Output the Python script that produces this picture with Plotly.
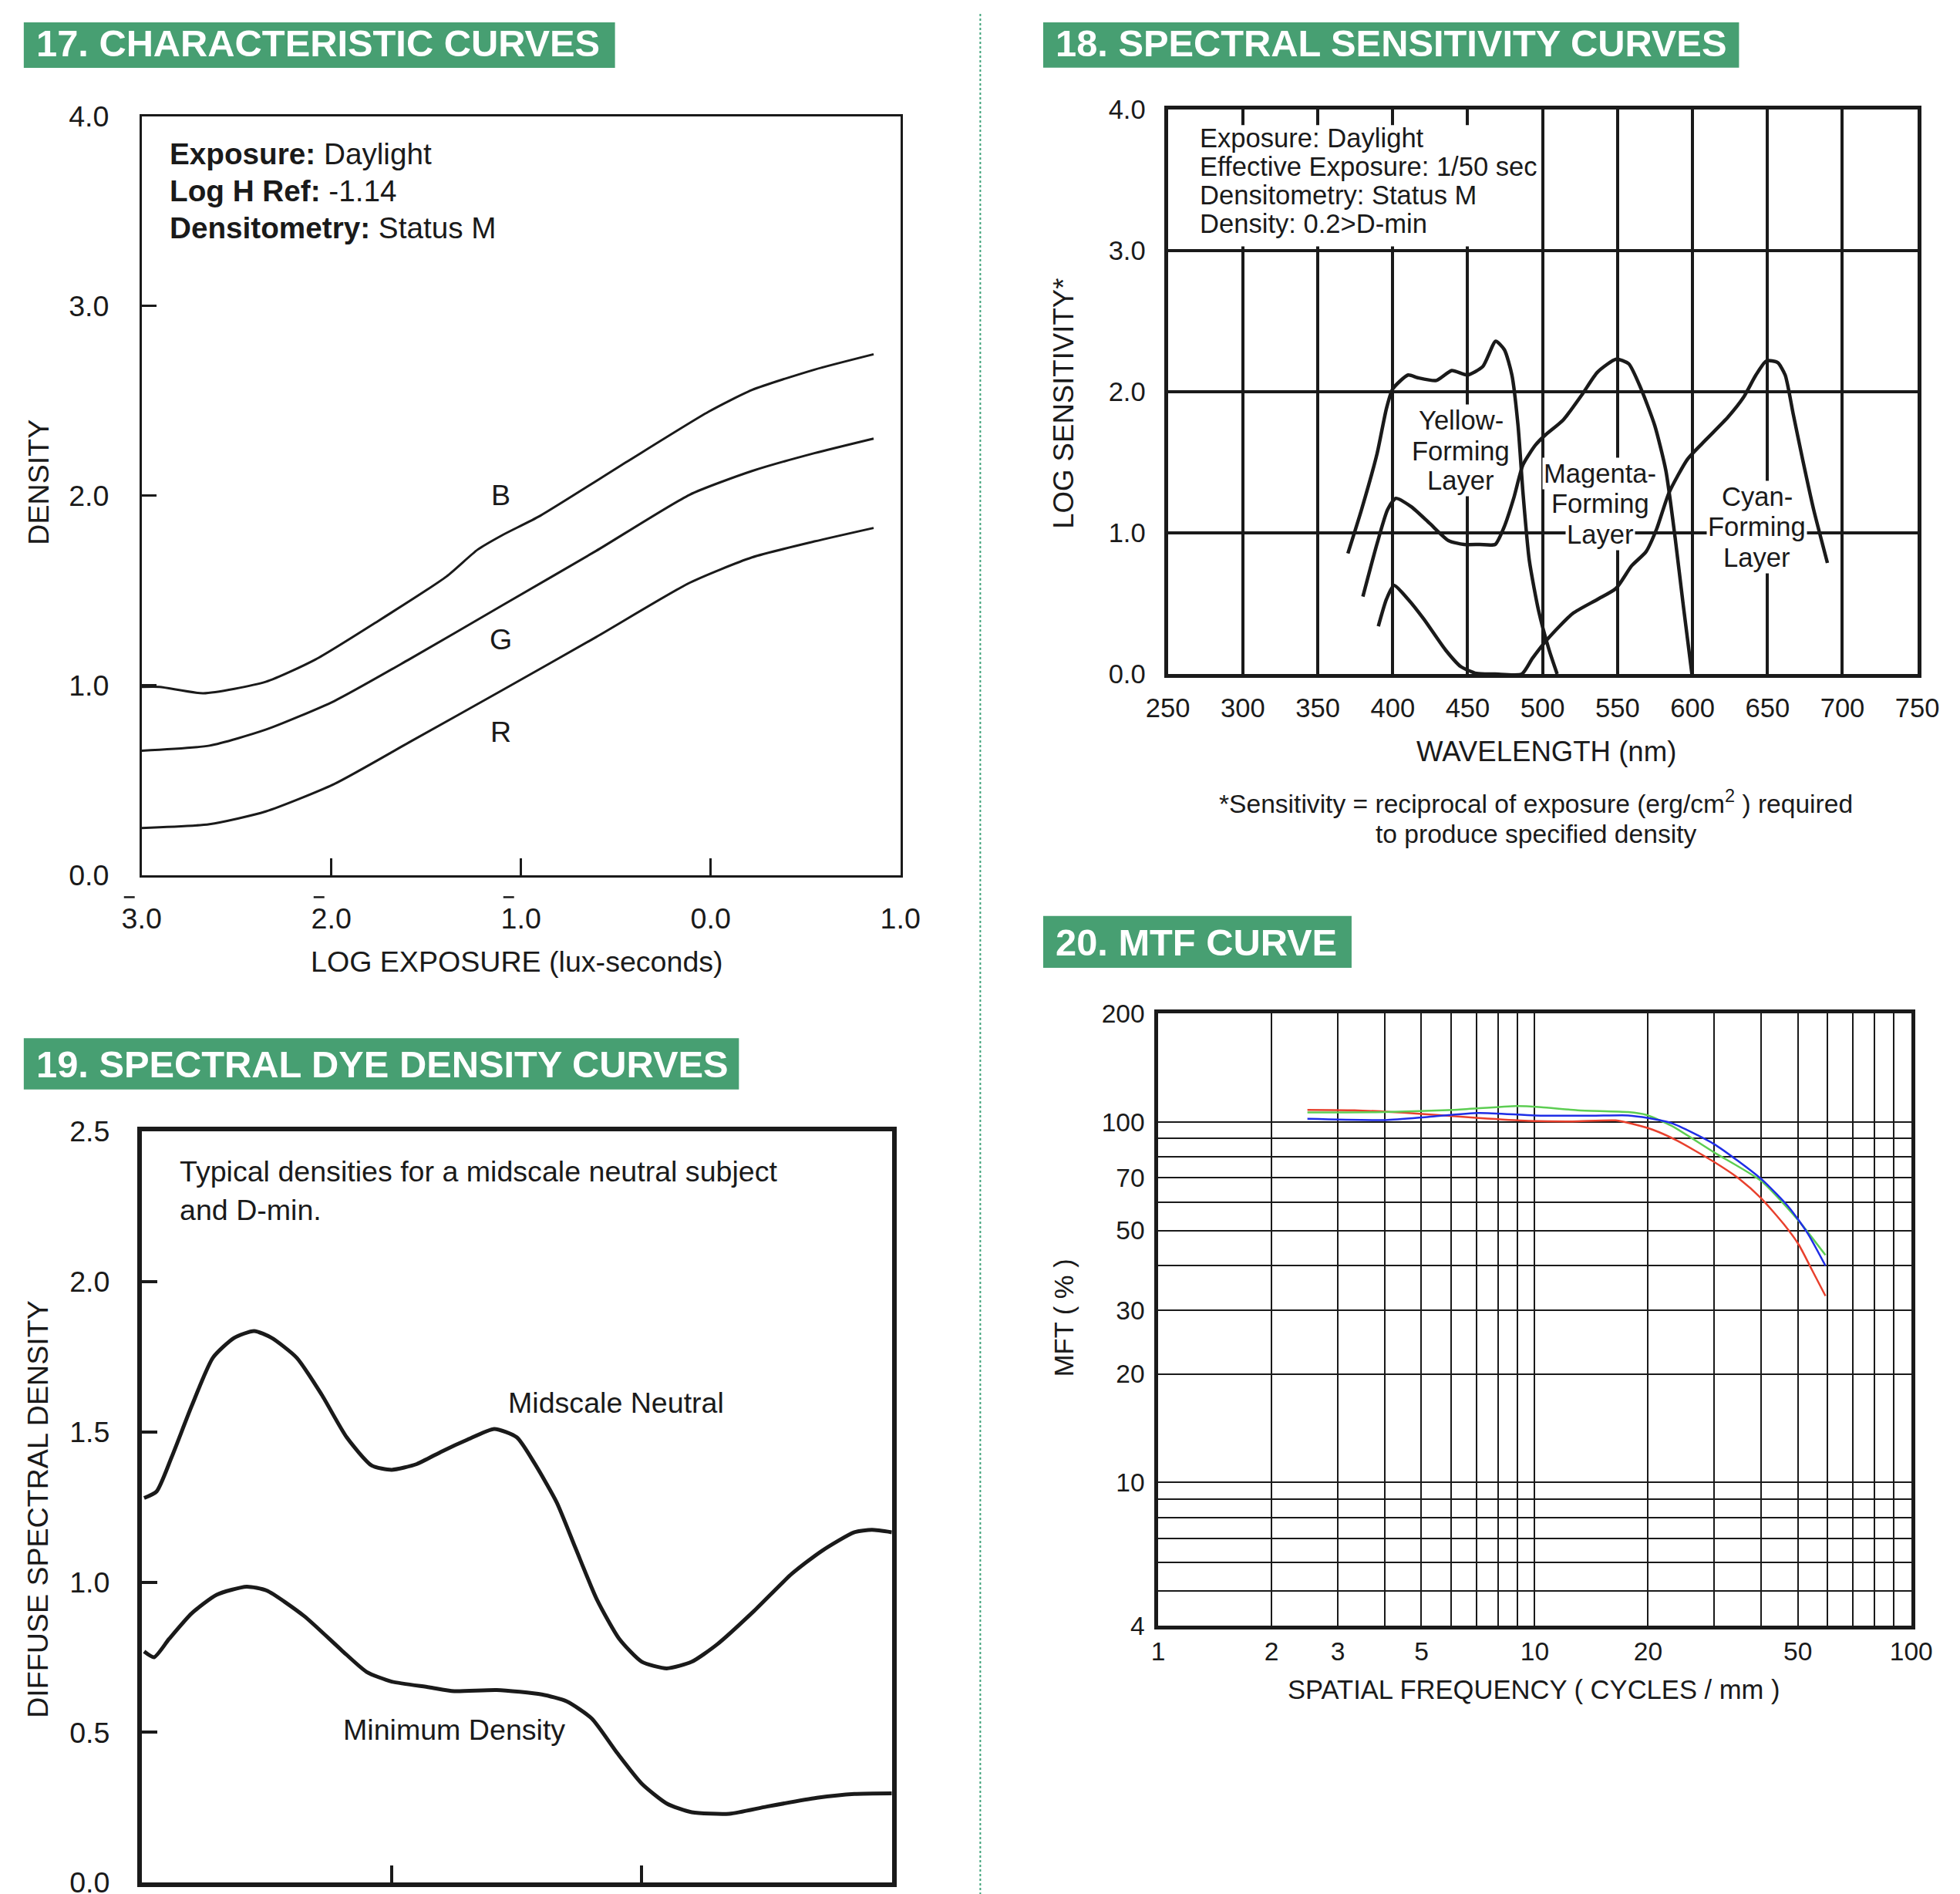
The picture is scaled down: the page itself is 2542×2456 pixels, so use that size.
import plotly.graph_objects as go
import math

# ---------------- DATA ----------------
# 17. Characteristic curves (log exposure vs density)
char_logH_B = [-3.0, -2.905, -2.675, -2.346, -2.083, -1.754, -1.393, -1.228, -1.097, -0.899, -0.440, -0.012, 0.218, 0.547, 0.859]
char_dens_B = [0.992, 0.992, 0.959, 1.019, 1.137, 1.339, 1.574, 1.716, 1.793, 1.894, 2.180, 2.442, 2.557, 2.664, 2.745]
char_logH_G = [-3.0, -2.642, -2.346, -1.984, -1.590, -1.097, -0.604, -0.111, 0.218, 0.547, 0.859]
char_dens_G = [0.656, 0.683, 0.767, 0.918, 1.137, 1.423, 1.709, 2.005, 2.130, 2.224, 2.301]
char_logH_R = [-3.0, -2.642, -2.346, -1.984, -1.590, -1.097, -0.604, -0.111, 0.218, 0.547, 0.859]
char_dens_R = [0.249, 0.269, 0.336, 0.481, 0.700, 0.976, 1.255, 1.541, 1.675, 1.759, 1.830]
char_x_ticks = [-3, -2, -1, 0, 1]
char_x_ticktext = ["3.0", "2.0", "1.0", "0.0", "1.0"]
char_x_negative = [-3, -2, -1]          # ticks whose characteristic carries a bar
char_y_ticks = [0, 1, 2, 3, 4]
char_y_ticktext = ["0.0", "1.0", "2.0", "3.0", "4.0"]

# 18. Spectral sensitivity curves (wavelength nm vs log sensitivity)
sens_wl_yellow = [370.1, 379.2, 389.6, 395.8, 400.0, 410.3, 416.6, 429.0, 439.4, 449.7, 460.1, 468.7, 474.5, 479.5, 483.6, 486.9, 491.1, 497.3, 504.3, 509.7]
sens_yellow = [0.855, 1.165, 1.563, 1.881, 2.02, 2.119, 2.10, 2.08, 2.151, 2.119, 2.179, 2.358, 2.298, 2.119, 1.761, 1.284, 0.807, 0.449, 0.171, 0.0]
sens_wl_magenta = [380.1, 389.6, 396.6, 402.0, 412.4, 424.8, 437.2, 447.6, 458.0, 468.3, 474.5, 480.7, 486.9, 495.2, 501.4, 513.8, 526.3, 536.6, 549.1, 557.4, 565.7, 574.8, 582.2, 588.4, 593.8, 599.6]
sens_magenta = [0.549, 0.926, 1.165, 1.245, 1.185, 1.066, 0.946, 0.918, 0.918, 0.918, 1.046, 1.245, 1.483, 1.622, 1.690, 1.801, 1.980, 2.139, 2.231, 2.199, 2.020, 1.761, 1.443, 0.966, 0.489, 0.0]
sens_wl_cyan = [390.4, 395.8, 400.8, 410.3, 420.7, 435.2, 445.5, 455.9, 468.3, 486.1, 493.2, 503.5, 520.1, 536.6, 549.1, 559.4, 569.0, 576.0, 584.3, 596.7, 609.1, 623.7, 634.0, 642.3, 649.3, 656.8, 661.8, 667.2, 673.4, 680.8, 690.0]
sens_cyan = [0.338, 0.529, 0.628, 0.529, 0.390, 0.171, 0.052, 0.004, 0.0, 0.0, 0.111, 0.250, 0.429, 0.529, 0.608, 0.767, 0.867, 1.026, 1.284, 1.523, 1.662, 1.821, 1.960, 2.119, 2.219, 2.207, 2.119, 1.841, 1.523, 1.165, 0.787]
sens_x_ticks = [250, 300, 350, 400, 450, 500, 550, 600, 650, 700, 750]
sens_y_ticks = [0, 1, 2, 3, 4]
sens_y_ticktext = ["0.0", "1.0", "2.0", "3.0", "4.0"]

# 19. Spectral dye density curves (wavelength nm vs diffuse density)
dye_wl_mid = [401, 406, 412, 420, 428.5, 437, 445, 452, 462, 472, 482, 492, 500, 510, 520, 530, 541, 550, 557, 566, 573.5, 582, 591, 600, 610, 620, 630, 645, 660, 672, 685, 692, 700]
dye_mid = [1.280, 1.302, 1.416, 1.586, 1.747, 1.813, 1.836, 1.813, 1.747, 1.624, 1.482, 1.388, 1.374, 1.393, 1.435, 1.473, 1.510, 1.482, 1.397, 1.265, 1.113, 0.943, 0.811, 0.735, 0.713, 0.735, 0.792, 0.905, 1.028, 1.104, 1.166, 1.174, 1.166]
dye_wl_min = [401, 405, 411, 420, 430, 442, 450, 465, 480, 490, 500, 515, 525, 542, 560, 570, 580, 590, 600, 610, 620, 635, 650, 670, 685, 700]
dye_min = [0.769, 0.750, 0.811, 0.896, 0.958, 0.985, 0.972, 0.887, 0.773, 0.701, 0.669, 0.650, 0.637, 0.641, 0.626, 0.603, 0.546, 0.433, 0.329, 0.263, 0.234, 0.229, 0.253, 0.282, 0.295, 0.297]
dye_x_ticks = [400, 500, 600, 700]
dye_y_ticks = [0, 0.5, 1.0, 1.5, 2.0, 2.5]
dye_y_ticktext = ["0.0", "0.5", "1.0", "1.5", "2.0", "2.5"]

# 20. MTF curve (cycles/mm vs response %)
mtf_freq_red = [2.49, 3.32, 4.85, 7.10, 9.62, 12.6, 16.4, 18.4, 20.6, 23.9, 29.9, 35.0, 40.0, 45.9, 50.3, 54.4, 59.2]
mtf_red = [108.0, 107.7, 105.5, 102.5, 100.7, 100.3, 101.0, 98.4, 95.1, 88.7, 77.5, 69.4, 61.3, 52.0, 45.6, 39.0, 32.9]
mtf_freq_blue = [2.49, 4.01, 5.23, 7.10, 10.0, 14.1, 17.7, 20.0, 23.1, 29.9, 40.0, 47.5, 53.2, 59.2]
mtf_blue = [102.0, 101.2, 103.3, 105.9, 104.2, 104.0, 104.2, 102.5, 99.2, 86.9, 69.4, 57.7, 48.9, 39.9]
mtf_freq_green = [2.49, 4.01, 6.10, 8.93, 10.4, 13.0, 17.7, 19.8, 23.1, 29.9, 40.0, 50.3, 59.2]
mtf_green = [106.3, 106.5, 108.0, 110.7, 109.9, 107.7, 106.5, 104.6, 97.5, 82.4, 68.5, 53.1, 42.7]
mtf_x_ticks = [1, 2, 3, 5, 10, 20, 50, 100]
mtf_x_minor = [4, 6, 7, 8, 9, 30, 40, 60, 70, 80, 90]
mtf_y_ticks = [4, 10, 20, 30, 50, 70, 100, 200]
mtf_y_minor = [5, 6, 7, 8, 9, 40, 60, 80, 90]

# ---------------- LAYOUT HELPERS ----------------
# Positions below are given in target-picture pixels and converted to figure pixels.
W, H = 2560, 2470
SX, SY = 0.9803, 0.9851          # picture scale observed around the window centre
CX, CY = 1271, 1228
MARGIN = 8
FS = 1 / 0.983                   # font compensation
FONT = "Liberation Sans, Arial, Helvetica, sans-serif"
INK = "#1a1a1a"
GREEN_HDR = "#479f72"


def fx(r):
    return CX + (r - CX) / SX - MARGIN


def fy(r):
    return CY + (r - CY) / SY - MARGIN


def px(r):
    return fx(r) / W


def py(r):
    return 1 - fy(r) / H


def dom(x0, x1, y0, y1):
    return [px(x0), px(x1)], [py(y1), py(y0)]


def fnt(size, color=INK):
    return dict(family=FONT, size=round(size * FS, 1), color=color)


fig = go.Figure()

line_k = dict(color=INK, shape="spline", smoothing=0.6)
for xs, ys in [(char_logH_B, char_dens_B), (char_logH_G, char_dens_G), (char_logH_R, char_dens_R)]:
    fig.add_trace(go.Scatter(x=xs, y=ys, mode="lines", line=dict(width=3, **line_k), xaxis="x", yaxis="y", hoverinfo="skip"))
for xs, ys in [(sens_wl_yellow, sens_yellow), (sens_wl_magenta, sens_magenta), (sens_wl_cyan, sens_cyan)]:
    fig.add_trace(go.Scatter(x=xs, y=ys, mode="lines", line=dict(width=4.5, **line_k), xaxis="x2", yaxis="y2", hoverinfo="skip"))
for xs, ys in [(dye_wl_mid, dye_mid), (dye_wl_min, dye_min)]:
    fig.add_trace(go.Scatter(x=xs, y=ys, mode="lines", line=dict(width=5, **line_k), xaxis="x3", yaxis="y3", hoverinfo="skip"))
for xs, ys, c in [(mtf_freq_red, mtf_red, "#e8402d"), (mtf_freq_green, mtf_green, "#5ccd52"), (mtf_freq_blue, mtf_blue, "#1f2ee6")]:
    fig.add_trace(go.Scatter(x=xs, y=ys, mode="lines", line=dict(width=2.5, color=c, shape="spline", smoothing=0.6), xaxis="x4", yaxis="y4", hoverinfo="skip"))

P17 = (180, 1167, 148, 1134.5)
P18 = (1515, 2490, 139.5, 873)
P19 = (180, 1156, 1467.5, 2443.5)
P20 = (1502.5, 2482, 1314, 2110)
d17, d18, d19, d20 = dom(*P17), dom(*P18), dom(*P19), dom(*P20)

common = dict(showgrid=False, zeroline=False, showline=True, mirror=True, fixedrange=True)

fig.update_layout(
    width=W, height=H,
    margin=dict(l=0, r=0, t=0, b=0),
    paper_bgcolor="white", plot_bgcolor="white",
    showlegend=False,
    font=dict(family=FONT, color=INK),
    xaxis=dict(domain=d17[0], anchor="y", range=[-3, 1], tickmode="array", tickvals=char_x_ticks, ticktext=char_x_ticktext,
               ticks="inside", ticklen=22, tickwidth=2.5, tickcolor=INK, linewidth=2.5, linecolor=INK,
               tickfont=fnt(37), ticklabelstandoff=21, **common),
    yaxis=dict(domain=d17[1], anchor="x", range=[0, 4], tickmode="array", tickvals=char_y_ticks, ticktext=char_y_ticktext,
               ticks="inside", ticklen=20, tickwidth=2.5, tickcolor=INK, linewidth=2.5, linecolor=INK,
               tickfont=fnt(37), ticklabelstandoff=32, **common),
    xaxis2=dict(domain=d18[0], anchor="y2", range=[250, 750], tickmode="array", tickvals=sens_x_ticks,
                ticks="", linewidth=5, linecolor=INK, tickfont=fnt(34), ticklabelstandoff=9,
                showgrid=True, gridcolor=INK, gridwidth=4, zeroline=False, showline=True, mirror=True, fixedrange=True),
    yaxis2=dict(domain=d18[1], anchor="x2", range=[0, 4], tickmode="array", tickvals=sens_y_ticks, ticktext=sens_y_ticktext,
                ticks="", linewidth=5, linecolor=INK, tickfont=fnt(34), ticklabelstandoff=17,
                showgrid=True, gridcolor=INK, gridwidth=4, zeroline=False, showline=True, mirror=True, fixedrange=True),
    xaxis3=dict(domain=d19[0], anchor="y3", range=[400, 700], tickmode="array", tickvals=dye_x_ticks,
                ticks="inside", ticklen=22, tickwidth=4, tickcolor=INK, linewidth=5.5, linecolor=INK,
                showticklabels=False, **common),
    yaxis3=dict(domain=d19[1], anchor="x3", range=[0, 2.5], tickmode="array", tickvals=dye_y_ticks, ticktext=dye_y_ticktext,
                ticks="inside", ticklen=21, tickwidth=4, tickcolor=INK, linewidth=5.5, linecolor=INK,
                tickfont=fnt(37), ticklabelstandoff=28, **common),
    xaxis4=dict(domain=d20[0], anchor="y4", type="log", range=[0, 2], tickmode="array", tickvals=mtf_x_ticks,
                ticktext=[str(v) for v in mtf_x_ticks], ticks="", linewidth=4.5, linecolor=INK,
                tickfont=fnt(33), ticklabelstandoff=0,
                showgrid=True, gridcolor=INK, gridwidth=1.6,
                minor=dict(tickmode="array", tickvals=mtf_x_minor, showgrid=True, gridcolor=INK, gridwidth=1.6, ticks=""),
                zeroline=False, showline=True, mirror=True, fixedrange=True),
    yaxis4=dict(domain=d20[1], anchor="x4", type="log", range=[math.log10(4), math.log10(200)], tickmode="array",
                tickvals=mtf_y_ticks, ticktext=[str(v) for v in mtf_y_ticks], ticks="", linewidth=4.5, linecolor=INK,
                tickfont=fnt(33), ticklabelstandoff=6,
                showgrid=True, gridcolor=INK, gridwidth=1.6,
                minor=dict(tickmode="array", tickvals=mtf_y_minor, showgrid=True, gridcolor=INK, gridwidth=1.6, ticks=""),
                zeroline=False, showline=True, mirror=True, fixedrange=True),
)

shapes = []
ann = []

headers = [
    ("17. CHARACTERISTIC CURVES", 26.7, 795.8, 18.2, 85.4),
    ("18. SPECTRAL SENSITIVITY CURVES", 1352.8, 2258, 19.8, 85),
    ("19. SPECTRAL DYE DENSITY CURVES", 26.7, 957, 1346.2, 1412.8),
    ("20. MTF CURVE", 1352.8, 1754, 1187.3, 1254.8),
]
for text, x0, x1, y0, y1 in headers:
    shapes.append(dict(type="rect", xref="paper", yref="paper", x0=px(x0), x1=px(x1), y0=py(y1), y1=min(1.0, py(y0)),
                       fillcolor=GREEN_HDR, line=dict(width=0), layer="below"))
    ann.append(dict(xref="paper", yref="paper", x=px(x0 + 14), y=py((y0 + y1) / 2 + 1), xanchor="left", yanchor="middle",
                    text="<b>" + text + "</b>", showarrow=False, font=fnt(48, "white")))

# bars over negative characteristics (bar notation on log-exposure ticks)
unit17 = (P17[1] - P17[0]) / 4.0
for v in char_x_negative:
    xr = P17[0] + (v + 3) * unit17
    shapes.append(dict(type="line", xref="paper", yref="paper", x0=px(xr - 23), x1=px(xr - 9),
                       y0=py(1163), y1=py(1163), line=dict(color=INK, width=2.5)))

shapes.append(dict(type="line", xref="paper", yref="paper", x0=px(1271), x1=px(1271), y0=0, y1=py(14),
                   line=dict(color="#3fa37a", width=2, dash="dot")))

shapes.append(dict(type="rect", xref="x2", yref="y2", x0=252.8, x1=494, y0=3.03, y1=3.89,
                   fillcolor="white", line=dict(width=0), layer="above"))

fig.update_layout(shapes=shapes)


def a_paper(text, x, y, size, xanchor="center", yanchor="middle", angle=0):
    return dict(xref="paper", yref="paper", x=px(x), y=py(y), text=text, showarrow=False, textangle=angle,
                xanchor=xanchor, yanchor=yanchor, font=fnt(size))


def a_data(text, xref, yref, x, y, size, xanchor="center", bg=None):
    d = dict(xref=xref, yref=yref, x=x, y=y, text=text, showarrow=False, xanchor=xanchor, yanchor="middle",
             font=fnt(size))
    if bg:
        d.update(bgcolor=bg, borderpad=1)
    return d


ann.append(a_paper("DENSITY", 45, 624, 37, angle=-90))
ann.append(a_paper("LOG EXPOSURE (lux-seconds)", 668, 1247, 37))
for i, t in enumerate(["<b>Exposure:</b> Daylight", "<b>Log H Ref:</b> -1.14", "<b>Densitometry:</b> Status M"]):
    ann.append(a_paper(t, 214, 197 + 48 * i, 38, xanchor="left"))
for lab, yv in [("B", 2.005), ("G", 1.243), ("R", 0.756)]:
    ann.append(a_data(lab, "x", "y", -1.107, yv, 37))

ann.append(a_paper("LOG SENSITIVITY*", 1380, 522, 36, angle=-90))
ann.append(a_paper("WAVELENGTH (nm)", 2007, 974, 36))
ann.append(a_paper("*Sensitivity = reciprocal of exposure (erg/cm<sup>2</sup> ) required", 1994, 1039, 33))
ann.append(a_paper("to produce specified density", 1994, 1081, 33))
for i, t in enumerate(["Exposure: Daylight", "Effective Exposure: 1/50 sec", "Densitometry: Status M", "Density: 0.2>D-min"]):
    ann.append(a_paper(t, 1554.6, 177 + 36.8 * i, 34, xanchor="left"))
for lines, xc, ys in [
    (["Yellow-", "Forming", "Layer"], 445.5, [1.80, 1.58, 1.37]),
    (["Magenta-", "Forming", "Layer"], 538.4, [1.42, 1.21, 0.99]),
    (["Cyan-", "Forming", "Layer"], 643.0, [1.255, 1.045, 0.824]),
]:
    for t, yv in zip(lines, ys):
        ann.append(a_data(t, "x2", "y2", xc, yv, 34, bg="white"))

ann.append(a_paper("DIFFUSE SPECTRAL DENSITY", 45, 1958, 37, angle=-90))
ann.append(a_data("Typical densities for a midscale neutral subject", "x3", "y3", 414.5, 2.368, 37, xanchor="left"))
ann.append(a_data("and D-min.", "x3", "y3", 414.5, 2.24, 37, xanchor="left"))
ann.append(a_data("Midscale Neutral", "x3", "y3", 589.8, 1.597, 37))
ann.append(a_data("Minimum Density", "x3", "y3", 525.1, 0.508, 37))

ann.append(a_paper("MFT ( % )", 1380, 1710, 34, angle=-90))
ann.append(a_paper("SPATIAL FREQUENCY ( CYCLES / mm )", 1991, 2193, 34))

fig.update_layout(annotations=ann)

fig.write_html("out.html")
